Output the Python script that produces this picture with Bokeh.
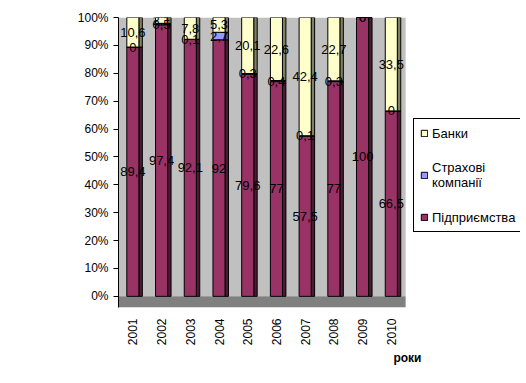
import math
from bokeh.plotting import figure
from bokeh.models import (ColumnDataSource, Legend, LegendItem, Title, Range1d,
                          FixedTicker, LabelSet, BoxAnnotation)
from bokeh.core.properties import value
from bokeh.transform import dodge
from bokeh.embed import file_html
from bokeh.resources import INLINE

years = ["2001", "2002", "2003", "2004", "2005", "2006", "2007", "2008", "2009", "2010"]
enterprises = [89.4, 97.4, 92.1, 92, 79.6, 77, 57.5, 77, 100, 66.5]
insurance = [0, 0.5, 0.1, 2.7, 0.3, 0.4, 0.1, 0.3, 0, 0]
banks = [10.6, 2.1, 7.8, 5.3, 20.1, 22.6, 42.4, 22.7, 0, 33.5]
series_names = ["Підприємства", "Страхові\nкомпанії", "Банки"]
front_colors = ["#993366", "#9999FF", "#FFFFCC"]
side_colors = ["#4D1A33", "#4D4D80", "#808066"]
y_ticks = [0, 10, 20, 30, 40, 50, 60, 70, 80, 90, 100]
y_tick_labels = {t: f"{t}%" for t in y_ticks}
x_title = "роки"

FONT = "Liberation Sans"


def fmt(v):
    return f"{v:g}".replace(".", ",")


idx = list(range(len(years)))
series = [enterprises, insurance, banks]
bottoms = []
tops = []
acc = [0.0] * len(years)
for s in series:
    b = list(acc)
    t = [a + v for a, v in zip(acc, s)]
    bottoms.append(b)
    tops.append(t)
    acc = t

n = len(years)
p = figure(width=520, height=375, x_range=Range1d(-0.5, 13.5), y_range=Range1d(-4, 100),
           output_backend="svg", toolbar_location=None,
           min_border_left=118, min_border_top=17, min_border_bottom=68, min_border_right=0)
p.background_fill_color = "white"
p.border_fill_color = "white"
p.outline_line_color = None
p.xgrid.grid_line_color = None
p.ygrid.grid_line_color = None

# back wall and floor
p.add_layout(BoxAnnotation(left=-0.5, right=n - 0.5, bottom=0, top=100,
                           fill_color="#C0C0C0", fill_alpha=1, line_color=None, level="underlay"))
p.add_layout(BoxAnnotation(left=-0.5, right=n - 0.5, bottom=-4, top=0,
                           fill_color="#808080", fill_alpha=1, line_color=None, level="underlay"))

renderers = []
for i, s in enumerate(series):
    src = ColumnDataSource(dict(x=idx, bottom=bottoms[i], top=tops[i],
                                mid=[(b + t) / 2 for b, t in zip(bottoms[i], tops[i])],
                                lab=[fmt(v) for v in s]))
    p.vbar(x=dodge("x", 0.27), width=0.12, bottom="bottom", top="top",
           source=src, fill_color=side_colors[i], line_color="black", line_width=1)
    r = p.vbar(x="x", width=0.42, bottom="bottom", top="top", source=src,
               fill_color=front_colors[i], line_color="black", line_width=1)
    renderers.append(r)
    p.add_layout(LabelSet(x="x", y="mid", text="lab", source=src,
                          text_align="center", text_baseline="middle",
                          text_font=value(FONT), text_font_size="13px", text_color="black"))

p.yaxis.ticker = FixedTicker(ticks=y_ticks)
p.yaxis.major_label_overrides = y_tick_labels
p.yaxis.minor_tick_line_color = None
p.yaxis.major_tick_out = 5
p.yaxis.major_tick_in = 0
p.yaxis.major_tick_line_color = "black"
p.yaxis.major_label_text_font = FONT
p.yaxis.major_label_text_font_size = "12px"
p.yaxis.major_label_text_color = "black"
p.yaxis.axis_line_color = "black"

p.xaxis.ticker = FixedTicker(ticks=idx)
p.xaxis.major_label_overrides = {i: y for i, y in zip(idx, years)}
p.xaxis.major_label_orientation = math.pi / 2
p.xaxis.major_label_text_font = FONT
p.xaxis.major_label_text_font_size = "12px"
p.xaxis.major_label_text_color = "black"
p.xaxis.axis_line_color = None
p.xaxis.major_tick_line_color = None
p.xaxis.minor_tick_line_color = None

p.add_layout(Title(text=x_title, align="right", text_font=FONT, text_font_size="12px",
                   text_font_style="bold", text_color="black", offset=99, standoff=0), "below")

legend = Legend(items=[LegendItem(label=series_names[2], renderers=[renderers[2]]),
                       LegendItem(label=series_names[1], renderers=[renderers[1]]),
                       LegendItem(label=series_names[0], renderers=[renderers[0]])],
                location=(295, 75), border_line_color="black", border_line_width=1,
                border_line_alpha=1,
                background_fill_color="white", background_fill_alpha=1,
                label_text_font=FONT, label_text_font_size="13px", label_text_color="black",
                glyph_width=8, glyph_height=8, label_standoff=4, padding=6,
                spacing=19, margin=0, label_height=16)
p.add_layout(legend)

open("out.html", "w").write(file_html(p, INLINE))
